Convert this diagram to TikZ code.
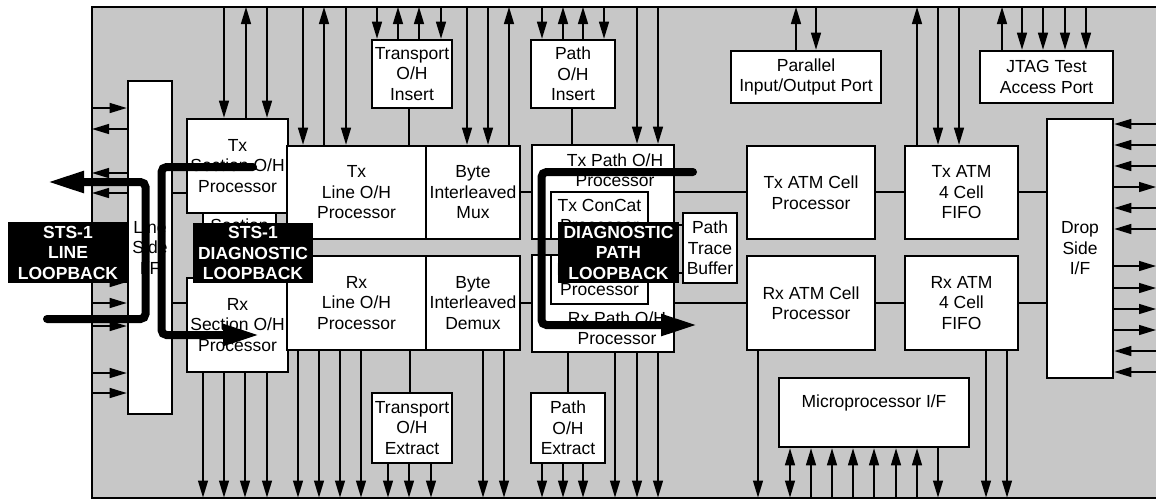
\documentclass[tikz,border=0pt]{standalone}
\usepackage{fontspec}
\setmainfont{Liberation Sans}
\usetikzlibrary{arrows.meta}

\tikzset{
  txtfont/.style={font=\fontsize{17.5}{20.5}\selectfont},
  blockbox/.style={draw, line width=2.6pt, fill=white, inner sep=0pt, align=center, txtfont},
  blocktext/.style={inner sep=0pt, align=center, txtfont},
  chipframe/.style={draw, line width=2pt, fill=black!22, inner sep=0pt, outer sep=0pt},
  sig/.style={line width=1.3pt},
  link/.style={line width=2pt},
  fwd/.style={-{Triangle[length=17pt,width=10pt]}},
  bwd/.style={{Triangle[length=17pt,width=10pt]}-},
  both/.style={{Triangle[length=17pt,width=10pt]}-{Triangle[length=17pt,width=10pt]}},
  loopline/.style={line width=8pt, line cap=round, rounded corners=5pt,
                   -{Triangle[length=37pt,width=20pt]}},
  looplabel/.style={fill=black, text=white, inner sep=0pt, align=center,
                    font=\fontsize{17.5}{20.5}\selectfont\bfseries},
}

% block from corner (x1,y1) to (x2,y2)
\newcommand\blockat[6]{%
  \pgfmathsetmacro\bcx{(#2+#4)/2}\pgfmathsetmacro\bcy{(#3+#5)/2}%
  \pgfmathsetmacro\bw{#4-#2}\pgfmathsetmacro\bh{#5-#3}%
  \node[blockbox, minimum width=\bw pt, minimum height=\bh pt] (#1) at (\bcx,\bcy) {#6};}
\newcommand\labelat[6]{%
  \pgfmathsetmacro\bcx{(#2+#4)/2}\pgfmathsetmacro\bcy{(#3+#5)/2}%
  \pgfmathsetmacro\bw{#4-#2}\pgfmathsetmacro\bh{#5-#3}%
  \node[looplabel, minimum width=\bw pt, minimum height=\bh pt] (#1) at (\bcx,\bcy) {#6};}

% pins between the chip edge and a block
\newcommand\topsigs[2]{\foreach \xx/\dir in {#2}{%
  \path (\xx,0) coordinate (q); \draw[sig,\dir] (q |- frame.north) -- (q |- #1.north);}}
\newcommand\botsigs[2]{\foreach \xx/\dir in {#2}{%
  \path (\xx,0) coordinate (q); \draw[sig,\dir] (q |- #1.south) -- (q |- frame.south);}}
\newcommand\leftsigs[1]{\foreach \yy/\dir in {#1}{%
  \path (0,\yy) coordinate (q); \draw[sig,\dir] (q -| frame.west) -- (q -| linesd.west);}}
\newcommand\rightsigs[1]{\foreach \yy/\dir in {#1}{%
  \path (0,\yy) coordinate (q); \draw[sig,\dir] (q -| drop.east) -- (q -| redge);}}
% horizontal and vertical links between blocks
\newcommand\hlink[3]{\path (0,#3) coordinate (q); \draw[link] (q -| #1.east) -- (q -| #2.west);}
\newcommand\vlink[3]{\path (#3,0) coordinate (q); \draw[link] (q |- #1.south) -- (q |- #2.north);}

\begin{document}
\begin{tikzpicture}[x=1pt,y=-1pt]
\useasboundingbox (0,0) rectangle (1156,499);
\coordinate (redge) at (1156,0);

% chip outline
\node[chipframe, minimum width=1065pt, minimum height=490.5pt] (frame) at (624.5,252.25) {};

% line side
\blockat{linesd}{128}{81}{172}{414}{Line\\Side\\I/F}
\blockat{txsec}{187}{119}{288}{213}{Tx\\Section O/H\\Processor}
\blockat{sectb}{203}{213}{276}{278}{Section\\Trace\\Buffer}
\blockat{rxsec}{187}{278}{288}{372}{Rx\\Section O/H\\Processor}
\blockat{txline}{287}{146}{426}{239}{Tx\\Line O/H\\Processor}
\blockat{txmux}{426}{146}{520}{239}{Byte\\Interleaved\\Mux}
\blockat{rxline}{287}{256}{426}{350}{Rx\\Line O/H\\Processor}
\blockat{rxdmx}{426}{256}{520}{350}{Byte\\Interleaved\\Demux}
\blockat{toins}{372}{40}{452}{108}{Transport\\O/H\\Insert}
\blockat{toext}{372}{393}{452}{463}{Transport\\O/H\\Extract}

% path layer
\blockat{poins}{531}{40}{615}{108}{Path\\O/H\\Insert}
\blockat{poext}{531}{393}{605}{463}{Path\\O/H\\Extract}
\blockat{txpath}{532}{145}{674}{239}{}
\node[blocktext] (txpathtxt) at (615,170) {Tx Path O/H\\Processor};
\blockat{rxpath}{532}{255}{674}{352}{}
\node[blocktext] (rxpathtxt) at (617,328) {Rx Path O/H\\Processor};
\blockat{txcc}{551}{192}{648}{239}{Tx ConCat\\Processor}
\blockat{rxcc}{551}{255}{648}{304}{Rx ConCat\\Processor}
\blockat{ptb}{683}{213}{737}{283}{Path\\Trace\\Buffer}

% ATM / drop side
\blockat{txatm}{747}{146}{875}{239}{Tx ATM Cell\\Processor}
\blockat{rxatm}{747}{256}{875}{350}{Rx ATM Cell\\Processor}
\blockat{txfifo}{905}{146}{1018}{239}{Tx ATM\\4 Cell\\FIFO}
\blockat{rxfifo}{905}{256}{1018}{350}{Rx ATM\\4 Cell\\FIFO}
\blockat{drop}{1047}{119}{1113}{378}{Drop\\Side\\I/F}
\blockat{micro}{779}{378}{969}{447}{}
\node[blocktext] (microtxt) at (874,403) {Microprocessor I/F};
\blockat{pio}{731}{51}{881}{103}{Parallel\\Input/Output Port}
\blockat{jtag}{980}{51}{1113}{103}{JTAG Test\\Access Port}

% internal links
\hlink{linesd}{txsec}{193}
\hlink{linesd}{rxsec}{303}
\hlink{txmux}{txpath}{192}
\hlink{rxdmx}{rxpath}{303}
\hlink{txpath}{txatm}{192}
\hlink{rxpath}{rxatm}{303}
\hlink{txatm}{txfifo}{192}
\hlink{rxatm}{rxfifo}{303}
\hlink{txfifo}{drop}{192}
\hlink{rxfifo}{drop}{303}
\hlink{txcc}{ptb}{225}
\hlink{rxcc}{ptb}{273}
\vlink{toins}{txline}{409}
\vlink{rxline}{toext}{410}
\vlink{poins}{txpath}{572}
\vlink{rxpath}{poext}{568}

% chip pins, top edge
\topsigs{txsec}{224/fwd,246/bwd,267/fwd}
\topsigs{txline}{303/fwd,324/bwd,346/fwd}
\topsigs{toins}{377/fwd,398/bwd,419/bwd,441/fwd}
\topsigs{txmux}{467/fwd,488/fwd,509/bwd}
\topsigs{poins}{542/fwd,563/bwd,583/bwd,604/fwd}
\topsigs{txpath}{637/fwd,658/fwd}
\topsigs{pio}{796/bwd,816/fwd}
\topsigs{txfifo}{917/bwd,938/fwd,959/fwd}
\topsigs{jtag}{1002/bwd,1022/fwd,1043/fwd,1065/fwd,1086/fwd}

% chip pins, bottom edge
\botsigs{rxsec}{203/fwd,224/fwd,245/fwd,267/fwd}
\botsigs{rxline}{298/fwd,319/fwd,340/fwd,361/fwd}
\botsigs{toext}{388/fwd,409/fwd,431/fwd}
\botsigs{rxdmx}{483/fwd,504/fwd}
\botsigs{poext}{542/fwd,563/fwd,583/fwd}
\botsigs{rxpath}{615/fwd,637/fwd,658/fwd}
\botsigs{rxatm}{758/fwd}
\botsigs{micro}{790/both,811/bwd,832/bwd,853/bwd,874/bwd,896/bwd,917/bwd,938/fwd}
\botsigs{rxfifo}{986/fwd,1007/fwd}

% chip pins, line side and drop side
\leftsigs{108/fwd,129/bwd,173/bwd,193/bwd,282/fwd,303/fwd,326/fwd,373/fwd,393/fwd}
\rightsigs{124/bwd,145/bwd,166/bwd,187/fwd,208/bwd,229/bwd,266/fwd,288/fwd,309/fwd,330/fwd,351/bwd,372/bwd}

% loopback paths
\coordinate (la) at (47,319);  \coordinate (lb) at (47,182);
\draw[loopline] (la) -- (145.5,319) -- (145.5,182) -- (lb);
\coordinate (da) at (253,167); \coordinate (db) at (260,335);
\draw[loopline] (da) -- (161.5,167) -- (161.5,335) -- (db);
\coordinate (pa) at (693,172); \coordinate (pb) at (698,325);
\draw[loopline] (pa) -- (541.5,172) -- (541.5,325) -- (pb);

% loopback labels
\labelat{lineloop}{8}{222}{128}{283}{STS-1\\LINE\\LOOPBACK}
\labelat{diagloop}{193}{223}{313}{283}{STS-1\\DIAGNOSTIC\\LOOPBACK}
\labelat{pathloop}{558}{222}{679}{283}{DIAGNOSTIC\\PATH\\LOOPBACK}
\end{tikzpicture}
\end{document}
